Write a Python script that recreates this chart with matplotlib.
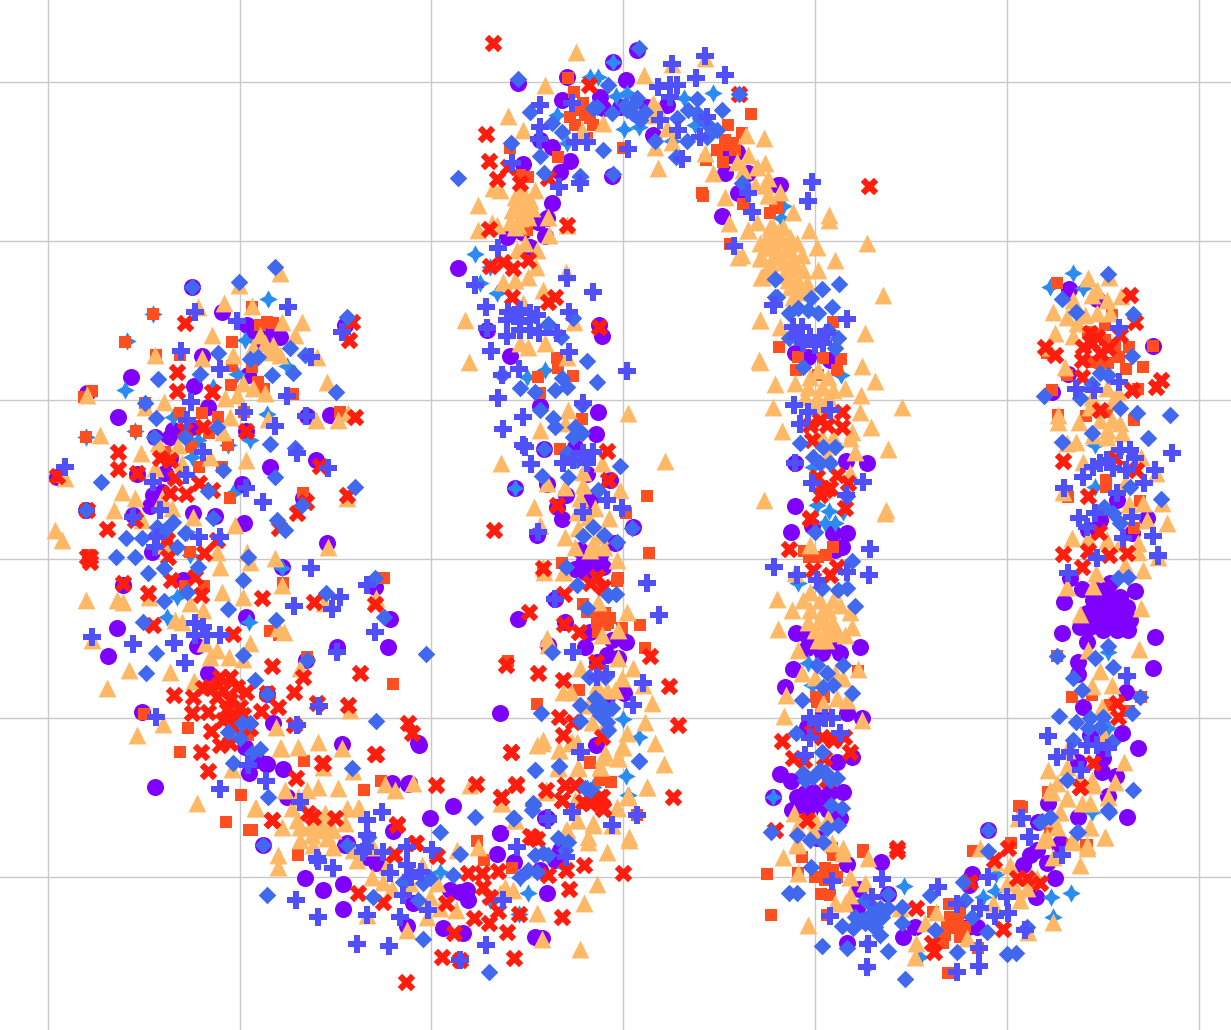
#!/usr/bin/env python3
"""Scatter of seven marker classes along an S-shaped band, values read off the reference."""

import numpy as np
import matplotlib
matplotlib.use("Agg")
import matplotlib.pyplot as plt

x_ticks = [48, 240, 431, 623, 815, 1007, 1199]
y_ticks = [82, 241, 400, 559, 718, 877]

circles = [
    (192,287),(222,312),(247,325),(253,335),(268,330),(280,337),(264,343),(202,356),(131,377),(248,375),
    (194,386),(87,393),(208,407),(118,417),(307,416),(330,415),(173,430),(192,427),(170,437),(155,437),
    (246,431),(170,458),(270,467),(316,460),(137,474),(165,473),(242,484),(153,495),(162,492),(150,506),
    (303,498),(193,513),(215,516),(244,523),(133,515),(86,510),(152,552),(327,543),(345,325),(57,477),
    (117,628),(108,656),(123,585),(183,580),(197,646),(208,673),(246,617),(375,587),(390,619),(388,647),
    (337,647),(306,660),(282,567),(267,694),(273,723),(342,744),(142,712),(245,747),(257,760),(266,764),
    (249,773),(283,769),(155,787),(287,797),(393,831),(345,845),(263,845),(367,855),(375,858),(418,743),
    (392,783),(408,784),(267,764),(305,878),(323,890),(343,884),(343,909),(347,843),(367,857),(376,863),
    (409,783),(430,818),(453,806),(407,926),(413,903),(443,928),(463,933),(450,890),(460,892),(468,900),
    (467,890),(500,833),(497,854),(514,862),(545,818),(555,860),(560,850),(540,870),(547,893),(535,937),
    (542,938),(419,745),(518,83),(613,62),(637,50),(567,77),(562,100),(626,80),(600,97),(603,108),
    (620,107),(647,107),(667,105),(653,135),(540,140),(552,147),(570,161),(560,172),(523,164),(552,203),
    (547,218),(612,176),(458,268),(507,237),(522,232),(545,236),(722,216),(725,173),(730,155),(737,152),
    (738,193),(748,173),(778,185),(530,247),(538,222),(599,325),(487,330),(510,356),(602,336),(540,406),
    (598,412),(596,434),(544,449),(575,447),(515,488),(547,484),(587,474),(610,480),(566,495),(557,507),
    (562,519),(590,500),(537,535),(633,527),(615,543),(580,550),(575,569),(603,567),(590,560),(583,563),
    (597,560),(500,713),(518,619),(555,599),(565,622),(548,645),(590,632),(585,647),(597,662),(607,655),
    (626,642),(612,640),(618,658),(624,693),(607,697),(596,745),(547,818),(500,833),(780,185),(808,357),
    (795,353),(830,360),(846,461),(867,463),(795,463),(795,506),(791,532),(812,526),(833,533),(847,533),
    (842,547),(835,550),(796,633),(808,637),(860,647),(793,669),(807,648),(822,653),(833,645),(840,653),
    (785,687),(823,712),(847,713),(862,718),(807,727),(837,762),(852,757),(780,774),(791,781),(773,797),
    (797,797),(805,793),(813,792),(830,792),(843,792),(792,810),(820,803),(840,818),(810,810),(817,838),
    (847,864),(881,862),(859,889),(888,894),(847,943),(903,937),(915,927),(968,927),(977,927),(972,874),
    (969,885),(988,830),(1023,865),(1030,855),(1037,850),(1048,803),(1036,897),(1055,878),(1038,822),
    (1078,817),(1059,845),(1047,863),(857,908),(1069,289),(1097,299),(1068,374),(1052,392),(1153,346),
    (1088,530),(1132,533),(1147,518),(1100,520),(1117,500),(1070,578),(1082,589),(1064,602),(1135,591),
    (1062,633),(1087,642),(1155,637),(1078,662),(1078,674),(1153,668),(1126,692),(1083,707),(1122,733),
    (1138,748),(1090,735),(1078,762),(1103,758),(1102,772),(1116,776),(1108,796),(1127,817),(1060,843),
    (1093,600),(1107,593),(1120,597),(1087,613),(1100,610),(1113,613),(1127,607),(1090,627),(1103,630),
    (1117,630),(1128,630),(1080,627),(1130,620),(1110,583),(1097,590),
    # tight clumps
    (1095,605),(1105,603),(1115,605),(1095,618),(1108,620),(1120,618),(1100,597),(1112,625),
    (815,800),(825,797),(800,805),(812,800),(828,810),(590,565),(600,555),(585,572),(815,640),(825,645),
]

stars = [
    (268,299),(153,314),(127,341),(125,390),(200,374),(237,374),(287,366),(213,387),(245,340),(173,417),
    (217,427),(267,414),(198,440),(250,440),(228,445),(192,457),(135,431),(86,437),(233,493),(190,555),
    (187,532),(282,568),(177,597),(167,617),(249,622),(626,776),(628,795),(587,788),(565,867),
    (519,914),(528,893),(520,878),(440,872),(490,900),(590,77),(598,77),(613,62),(616,96),(627,93),
    (713,93),(684,98),(557,115),(624,129),(639,127),(567,143),(672,141),(475,254),(490,267),(480,283),
    (497,293),(695,125),(580,177),(515,488),(527,377),(545,370),(639,737),(623,719),(593,787),(783,206),
    (781,218),(841,375),(813,467),(817,505),(829,511),(843,512),(833,443),(825,523),(835,523),(798,583),
    (820,587),(808,663),(812,685),(773,797),(904,886),(996,874),(995,891),(983,897),(1071,893),(1051,897),
    (1053,917),(920,957),(867,943),(878,912),(880,935),(867,967),(1073,273),(1083,288),(1050,287),
    (1095,445),(1095,487),(1108,652),(1127,676),(1108,728),(1092,812),
]

squares = [
    (153,314),(252,307),(125,342),(232,342),(267,322),(260,325),(273,323),(156,355),(180,355),(232,366),
    (252,367),(231,385),(92,391),(84,397),(145,403),(293,394),(258,382),(264,389),(244,412),(218,417),
    (202,413),(180,413),(340,412),(136,431),(86,437),(209,433),(191,447),(228,445),(165,452),(199,467),
    (222,467),(60,477),(230,498),(303,493),(88,555),(190,552),(167,540),(204,586),(185,586),(384,578),
    (283,583),(270,631),(279,635),(307,657),(393,684),(144,714),(188,728),(248,735),(180,752),(304,761),
    (364,790),(381,781),(241,795),(226,822),(249,830),(298,855),(252,830),(477,841),(484,860),(512,868),
    (590,762),(600,780),(611,782),(637,815),(568,78),(574,92),(583,103),(570,117),(575,125),(590,118),
    (587,138),(558,157),(520,175),(528,177),(623,148),(751,114),(728,125),(742,133),(725,140),(717,150),
    (706,160),(723,162),(733,143),(702,193),(703,196),(743,204),(730,244),(770,213),(527,230),(515,230),
    (510,148),(777,208),(557,358),(558,368),(573,376),(540,393),(538,377),(582,419),(560,449),(647,496),
    (626,513),(649,553),(562,563),(618,578),(543,573),(617,581),(583,604),(587,612),(598,613),(605,613),
    (597,622),(608,623),(622,628),(640,625),(645,648),(508,661),(579,690),(537,704),(590,763),(744,204),
    (775,206),(833,322),(779,347),(798,357),(823,358),(841,359),(796,370),(818,375),(837,370),(804,551),
    (809,557),(818,557),(826,555),(833,547),(858,671),(816,697),(824,697),(817,702),(863,850),(832,848),
    (767,874),(802,857),(798,873),(771,915),(833,855),(825,868),(833,870),(815,877),(825,880),(837,877),
    (821,894),(830,895),(863,852),(827,915),(933,912),(949,904),(950,917),(960,913),(955,928),(965,927),
    (960,937),(943,943),(948,973),(973,851),(1011,843),(1019,806),(978,948),(1050,829),(1086,845),
    (1048,792),(1072,845),(947,927),(1057,283),(1088,332),(1105,325),(1112,315),(1129,347),(1153,346),
    (1119,357),(1092,362),(1100,363),(1108,363),(1126,369),(1143,367),(1047,353),(1138,389),(1052,390),
    (1058,415),(1086,416),(1134,420),(1107,412),(1106,487),(1106,480),(1120,490),(1068,497),(1140,501),
    (1134,528),(1067,375),(1072,697),(1092,695),(1141,697),(1110,705),(1129,711),(1057,656),(1048,792),
    (1022,807),(1050,829),(1087,845),
    # tight clumps
    (600,618),(605,625),(598,632),(610,618),(950,925),(958,920),(945,935),(578,110),(585,115),(593,125),
    (1095,335),(1105,340),(1115,345),(728,145),(735,150),
]

triangles = [
    (280,273),(239,285),(198,307),(224,303),(252,306),(302,322),(282,322),(212,335),(295,335),(260,335),
    (265,343),(253,347),(273,350),(280,355),(233,355),(202,358),(155,355),(317,357),(243,383),(253,388),
    (237,395),(225,398),(265,393),(327,382),(87,395),(164,402),(145,407),(268,419),(316,420),(338,420),
    (348,413),(230,417),(100,435),(223,432),(178,445),(158,443),(141,453),(210,457),(246,460),(182,463),
    (155,468),(65,478),(122,492),(135,498),(114,510),(162,498),(172,508),(193,517),(235,525),(55,530),
    (62,540),(347,498),(247,552),(328,547),(165,545),(217,552),(275,558),(142,520),(86,600),(123,602),
    (117,600),(149,597),(190,603),(203,610),(175,620),(182,622),(222,592),(243,597),(220,567),(250,562),
    (282,585),(92,640),(205,643),(217,650),(210,657),(229,657),(243,659),(250,643),(129,670),(170,672),
    (194,681),(107,688),(163,724),(137,735),(276,727),(280,748),(298,747),(318,742),(342,748),(232,769),
    (323,767),(353,771),(300,668),(350,710),(278,628),(284,632),(324,603),(376,598),(318,787),(338,788),
    (385,784),(395,790),(413,783),(197,803),(255,808),(292,808),(307,790),(297,820),(310,827),(282,827),
    (325,813),(320,823),(333,830),(345,823),(347,808),(359,808),(300,840),(313,845),(333,847),(353,850),
    (373,847),(300,827),(327,827),(317,820),(285,790),(298,797),(278,855),(281,748),(256,808),(278,867),
    (358,808),(367,915),(357,860),(372,877),(383,882),(392,888),(387,865),(422,865),(410,883),(430,897),
    (437,883),(440,908),(427,917),(456,910),(407,930),(470,785),(515,820),(457,850),(478,847),(505,887),
    (513,890),(500,893),(502,803),(537,913),(542,939),(580,949),(584,903),(597,884),(546,792),(629,840),
    (607,852),(588,842),(567,830),(577,820),(593,825),(612,825),(617,808),(647,787),(628,797),(578,768),
    (559,750),(542,743),(600,767),(603,757),(618,758),(623,747),(570,743),(558,768),(576,52),(545,85),
    (508,116),(523,130),(478,205),(478,230),(493,188),(500,190),(492,223),(497,225),(515,197),(523,193),
    (535,190),(512,210),(522,207),(532,208),(510,222),(520,218),(528,217),(515,227),(548,217),(549,235),
    (567,225),(517,250),(525,243),(537,250),(536,267),(503,282),(515,280),(528,277),(566,272),(543,290),
    (465,320),(523,303),(672,64),(705,58),(644,75),(653,103),(653,115),(658,110),(667,128),(658,168),
    (603,123),(582,130),(655,147),(672,142),(746,135),(764,138),(725,197),(713,173),(705,153),(748,155),
    (737,162),(743,170),(757,167),(765,163),(768,178),(768,195),(729,223),(748,230),(738,257),(762,277),
    (760,320),(760,243),(762,258),(770,227),(773,237),(768,247),(775,257),(767,270),(469,362),(520,343),
    (528,347),(545,343),(567,357),(574,322),(540,430),(565,423),(568,410),(628,413),(665,461),(501,463),
    (602,463),(547,483),(565,487),(583,472),(583,485),(620,490),(534,507),(540,525),(580,498),(595,508),
    (577,512),(588,517),(609,518),(578,528),(565,537),(575,547),(593,543),(604,547),(617,560),(543,567),
    (563,572),(544,572),(564,572),(598,602),(627,612),(602,635),(618,630),(547,638),(548,645),(618,658),
    (580,668),(633,668),(622,678),(563,692),(571,692),(597,685),(607,690),(615,690),(643,685),(652,703),
    (588,705),(645,722),(592,722),(607,720),(627,733),(655,743),(664,764),(543,740),(537,745),(572,742),
    (577,742),(559,750),(622,747),(605,753),(618,758),(578,767),(600,767),(558,767),(647,787),(546,790),
    (628,795),(575,800),(617,807),(577,820),(593,823),(612,825),(566,830),(515,820),(501,803),(629,837),
    (588,837),(755,185),(765,185),(768,195),(780,192),(793,212),(829,215),(829,220),(757,222),(748,230),
    (809,230),(817,247),(867,243),(835,260),(760,258),(770,263),(742,255),(761,277),(818,270),(883,295),
    (760,320),(780,327),(865,333),(759,360),(760,362),(862,366),(875,381),(775,384),(795,383),(845,388),
    (861,395),(773,407),(902,407),(860,412),(782,431),(871,427),(852,432),(888,449),(855,452),(850,438),
    (764,500),(886,510),(773,227),(783,227),(767,237),(777,237),(790,237),(797,243),(765,247),(775,247),
    (787,248),(802,255),(780,257),(792,260),(790,270),(803,270),(783,275),(797,280),(807,283),(790,287),
    (800,292),(793,297),(810,377),(818,370),(828,377),(808,387),(822,387),(833,390),(805,397),(817,397),
    (828,397),(815,407),(823,407),(833,437),(822,437),(828,455),(850,473),(885,513),(810,545),(795,573),
    (777,599),(792,610),(778,629),(803,600),(810,592),(820,600),(833,600),(840,605),(810,610),(823,610),
    (850,612),(808,622),(822,622),(833,623),(852,627),(825,633),(838,633),(845,635),(798,650),(818,640),
    (858,669),(802,673),(815,677),(835,673),(843,678),(786,695),(837,698),(847,700),(823,703),(784,716),
    (862,720),(794,813),(815,820),(828,818),(797,827),(797,843),(813,830),(832,843),(843,848),(783,857),
    (798,873),(797,845),(808,925),(843,853),(850,877),(865,883),(868,858),(835,903),(845,903),(850,895),
    (916,943),(936,912),(925,923),(900,908),(967,938),(993,903),(980,848),(995,862),(1010,865),(1007,883),
    (1020,900),(1017,890),(1027,888),(1037,878),(1053,818),(1047,837),(1072,842),(1087,848),(1080,865),
    (1053,857),(1018,818),(1050,790),(1067,798),(1090,803),(1093,785),(1105,837),(1090,827),(1060,812),
    (1028,932),(1053,922),(915,957),(1088,278),(1109,277),(1097,290),(1073,300),(1092,295),(1107,300),
    (1053,312),(1067,317),(1085,315),(1097,313),(1110,313),(1121,296),(1077,323),(1055,333),(1073,336),
    (1048,347),(1065,367),(1107,388),(1118,392),(1113,400),(1092,397),(1090,407),(1058,415),(1058,422),
    (1079,422),(1100,420),(1112,420),(1120,423),(1107,430),(1122,433),(1093,435),(1107,437),(1067,443),
    (1076,442),(1141,457),(1083,462),(1125,483),(1156,473),(1063,492),(1129,504),(1143,503),(1162,503),
    (1147,520),(1167,523),(1072,538),(1138,543),(1088,538),(1107,540),(1120,543),(1138,552),(1158,557),
    (1125,565),(1143,570),(1096,573),(1093,586),(1067,587),(1141,608),(1080,614),(1139,649),(1088,650),
    (1100,671),(1092,686),(1112,685),(1102,707),(1104,735),(1067,750),(1124,762),(1048,770),(1067,767),
    (1115,782),(1057,783),(1052,792),(1067,798),(1092,780),(1080,777),(1108,797),(1082,803),(1060,812),
    (1090,827),(1105,837),(1057,827),(1072,840),(1043,840),(1087,845),
    # tight clumps
    (518,200),(526,212),(518,225),(530,200),(522,190),(782,240),(790,250),(784,262),(796,265),(778,232),
    (788,280),(800,285),(822,615),(830,628),(815,630),(828,610),(826,640),(320,830),(327,838),(312,835),
    (273,345),(268,352),(595,545),(590,550),(600,535),
]

crosses = [
    (185,323),(352,322),(349,340),(177,372),(177,391),(212,392),(355,417),(246,431),(203,427),(185,430),
    (118,452),(118,469),(170,460),(160,458),(137,473),(175,478),(199,483),(186,494),(170,493),(212,490),
    (320,466),(57,476),(87,510),(135,520),(107,529),(306,502),(297,513),(279,528),(347,495),(167,540),
    (217,540),(204,553),(168,557),(90,557),(87,557),(90,562),(123,583),(148,593),(171,580),(195,577),
    (201,595),(262,598),(314,602),(375,604),(153,625),(233,634),(272,666),(303,677),(360,673),(174,695),
    (193,697),(192,713),(208,712),(211,731),(246,692),(267,693),(294,692),(278,707),(261,711),(317,703),
    (348,705),(294,725),(408,723),(412,733),(375,754),(322,763),(201,752),(208,771),(220,745),(230,743),
    (250,728),(296,778),(272,820),(313,817),(335,818),(397,825),(415,843),(394,855),(220,677),(230,677),
    (210,687),(223,690),(237,687),(217,697),(230,700),(240,707),(227,710),(237,717),(223,720),(243,715),
    (203,688),(218,685),(228,717),(233,727),(308,813),(376,754),(511,752),(323,763),(436,785),(476,784),
    (516,784),(501,797),(272,820),(397,824),(416,843),(394,854),(437,856),(358,893),(383,902),(446,903),
    (468,873),(482,873),(498,871),(483,887),(490,897),(498,911),(474,918),(489,923),(507,932),(454,933),
    (442,957),(460,960),(514,958),(406,982),(519,914),(562,917),(569,889),(548,875),(584,865),(566,870),
    (623,873),(530,836),(537,839),(562,800),(565,785),(575,785),(590,803),(603,808),(600,797),(493,43),
    (589,85),(486,134),(489,161),(497,179),(508,167),(548,178),(520,183),(739,94),(567,225),(489,229),
    (490,266),(503,262),(513,268),(528,260),(548,302),(555,297),(512,297),(599,327),(607,451),(608,480),
    (557,505),(494,530),(543,568),(564,594),(529,612),(590,583),(597,577),(603,587),(564,624),(579,632),
    (596,662),(650,656),(506,665),(538,673),(563,680),(669,686),(559,717),(573,722),(678,725),(563,735),
    (511,752),(602,737),(516,785),(546,790),(565,785),(575,785),(562,800),(501,797),(673,797),(532,837),
    (590,803),(602,797),(603,809),(583,802),(869,186),(842,412),(820,420),(810,425),(827,425),(842,427),
    (812,440),(817,477),(837,475),(848,483),(825,490),(830,488),(810,518),(845,508),(822,488),(820,495),
    (789,549),(810,519),(813,570),(830,575),(837,567),(782,741),(793,758),(804,760),(824,758),(812,732),
    (822,737),(833,740),(844,737),(850,752),(775,830),(897,848),(807,820),(827,780),(897,851),(916,908),
    (970,882),(932,943),(934,952),(1003,929),(1008,848),(994,860),(1017,878),(1027,878),(1040,883),
    (1080,787),(1130,295),(1135,322),(1055,355),(1045,347),(1082,377),(1082,360),(1097,337),(1083,347),
    (1100,353),(1092,343),(1108,348),(1090,333),(1132,390),(1161,380),(1156,387),(1120,335),(1100,410),
    (1063,461),(1136,470),(1115,458),(1088,496),(1099,532),(1063,554),(1088,551),(1109,555),(1127,553),
    (1082,567),(1118,717),(1117,703),(1093,763),(1080,787),
]

diamonds = [
    (275,267),(239,282),(192,287),(347,317),(355,487),(290,348),(218,353),(305,355),(258,357),(250,359),
    (272,375),(293,373),(158,379),(200,374),(336,392),(145,403),(156,418),(217,427),(185,437),(154,437),
    (270,444),(295,448),(223,470),(101,482),(208,491),(275,477),(302,505),(213,518),(86,510),(126,538),
    (142,538),(173,522),(185,533),(177,547),(116,557),(135,557),(157,527),(165,530),(277,520),(285,530),
    (248,557),(157,533),(148,573),(164,568),(198,567),(243,580),(187,592),(164,601),(228,609),(276,620),
    (156,653),(146,673),(326,593),(375,578),(307,660),(255,680),(267,694),(376,721),(297,725),(228,732),
    (242,723),(250,723),(240,738),(252,753),(260,749),(233,763),(268,797),(263,845),(368,837),(347,845),
    (384,617),(143,622),(243,655),(352,768),(267,895),(535,770),(559,766),(639,761),(533,805),(373,897),
    (440,832),(368,837),(475,817),(460,854),(513,818),(423,939),(489,972),(403,882),(418,900),(423,883),
    (430,878),(453,875),(558,838),(568,842),(535,855),(543,853),(528,870),(537,872),(520,877),(533,803),
    (585,788),(590,790),(518,79),(639,48),(608,85),(530,112),(552,123),(562,132),(458,178),(511,143),
    (540,156),(544,173),(580,176),(603,150),(613,174),(655,141),(676,157),(687,141),(697,99),(722,110),
    (739,94),(627,110),(637,98),(640,120),(688,110),(697,113),(677,118),(717,130),(707,137),(742,183),
    (775,279),(775,297),(573,318),(548,324),(593,108),(632,113),(612,113),(597,107),(548,325),(561,337),
    (587,361),(597,382),(520,388),(502,375),(535,392),(555,390),(567,387),(562,378),(540,410),(553,418),
    (555,427),(582,405),(582,433),(573,437),(620,466),(544,449),(568,477),(542,476),(598,490),(567,453),
    (577,460),(583,536),(604,535),(593,527),(632,528),(617,542),(566,567),(575,427),(577,585),(616,594),
    (608,595),(587,608),(552,652),(589,677),(605,677),(541,713),(580,705),(595,698),(602,710),(612,708),
    (580,721),(608,730),(600,703),(605,713),(559,766),(535,770),(639,761),(533,805),(532,810),(514,818),
    (775,279),(822,289),(839,284),(777,297),(811,298),(832,307),(789,313),(798,308),(808,310),(818,313),
    (789,338),(838,338),(835,348),(800,443),(823,447),(813,457),(835,447),(820,463),(830,463),(847,496),
    (803,367),(828,330),(815,532),(852,561),(847,588),(822,588),(838,590),(855,606),(843,665),(817,665),
    (827,673),(833,685),(852,693),(802,700),(823,687),(796,733),(822,752),(803,773),(825,772),(813,777),
    (837,778),(831,805),(842,808),(838,825),(827,828),(797,835),(771,832),(810,840),(823,842),(805,780),
    (789,893),(797,893),(811,867),(822,946),(847,948),(888,951),(905,979),(842,926),(853,928),(855,917),
    (865,923),(875,927),(865,900),(873,907),(882,917),(888,908),(902,907),(902,923),(880,935),(888,894),
    (930,895),(957,952),(965,900),(972,917),(963,882),(987,932),(1007,954),(1016,953),(988,851),(988,830),
    (1042,821),(1108,810),(1077,832),(1027,927),(935,930),(1108,274),(1062,299),(1076,312),(1133,314),
    (1132,356),(1100,373),(1108,375),(1092,384),(1044,396),(1080,398),(1120,408),(1137,413),(1170,415),
    (1148,438),(1062,442),(1092,433),(1161,499),(1104,507),(1113,513),(1120,523),(1130,487),(1118,578),
    (1128,577),(1108,646),(1057,656),(1095,658),(1113,667),(1073,678),(1082,690),(1140,697),(1059,716),
    (1132,713),(1076,722),(1090,718),(1100,727),(1088,728),(1073,740),(1112,742),(1133,790),(1109,812),
    (1040,822),(1067,780),(1050,817),(1078,832),(1103,717),(426,654),
    # tight clumps
    (870,915),(878,918),(872,925),(862,920),(880,908),(625,105),(635,103),(645,112),(700,118),(708,125),
    (600,715),(607,722),(595,708),(820,770),(830,780),(565,850),(548,855),
]

pluses = [
    (288,307),(195,312),(237,321),(342,332),(181,351),(311,357),(220,369),(287,396),(191,402),(306,416),
    (244,412),(275,426),(187,420),(203,452),(65,467),(297,453),(186,475),(246,488),(153,482),(263,502),
    (160,510),(199,537),(157,537),(155,547),(133,517),(220,537),(328,468),(311,568),(92,637),(133,644),
    (174,643),(185,663),(195,623),(203,627),(195,635),(207,635),(220,635),(294,606),(340,597),(332,609),
    (375,632),(337,652),(367,585),(319,706),(297,725),(248,765),(266,781),(220,789),(382,812),(367,820),
    (300,802),(365,847),(383,852),(407,847),(317,858),(156,717),(318,861),(333,868),(296,900),(318,917),
    (367,915),(367,835),(363,852),(390,873),(407,865),(411,877),(421,872),(403,895),(428,910),(400,917),
    (357,944),(389,946),(486,945),(460,960),(517,847),(432,850),(407,847),(548,818),(572,812),(581,752),
    (566,857),(503,900),(705,56),(672,64),(696,78),(725,75),(540,105),(572,103),(540,127),(539,139),
    (575,142),(587,142),(512,163),(559,187),(580,183),(498,248),(628,149),(682,159),(658,87),(670,85),
    (677,85),(670,97),(660,120),(678,130),(707,117),(700,137),(734,246),(748,193),(752,212),(567,278),
    (593,292),(475,285),(486,307),(569,312),(508,312),(520,310),(530,313),(507,320),(520,322),(530,320),
    (487,328),(537,315),(515,315),(773,305),(507,336),(520,330),(530,330),(539,333),(557,333),(569,352),
    (491,351),(519,369),(502,375),(627,371),(498,398),(583,403),(523,417),(503,429),(525,447),(523,445),
    (531,464),(563,463),(593,452),(583,453),(573,460),(587,463),(538,532),(607,500),(622,508),(583,512),
    (647,583),(659,615),(555,599),(573,652),(643,683),(606,674),(597,677),(633,705),(580,752),(612,825),
    (548,820),(637,815),(572,812),(808,201),(812,182),(774,305),(847,319),(794,405),(808,412),(800,424),
    (830,410),(795,463),(863,482),(802,327),(810,337),(820,337),(797,337),(803,343),(815,345),(823,343),
    (827,333),(812,483),(846,495),(793,327),(870,549),(774,567),(869,575),(797,575),(817,580),(847,572),
    (832,718),(810,718),(818,723),(810,738),(840,733),(805,755),(825,718),(1030,837),(1021,818),(1062,855),
    (882,879),(938,887),(832,881),(872,897),(830,916),(868,944),(867,967),(957,904),(980,908),(995,916),
    (1008,913),(1007,897),(988,877),(957,972),(979,966),(979,948),(1025,930),(1119,328),(1076,389),
    (1094,390),(1119,382),(1172,453),(1155,470),(1144,483),(1126,470),(1130,450),(1120,450),(1100,463),
    (1093,467),(1083,477),(1064,488),(1113,468),(1117,493),(1079,518),(1095,513),(1087,527),(1132,517),
    (1153,536),(1123,538),(1158,555),(1107,460),(1135,458),(1068,573),(1158,556),(1097,558),(1127,676),
    (1048,736),(1057,757),(1081,770),(1087,745),(1097,745),(1108,748),(1022,818),(1029,837),(1070,752),
]

# bottom to top, same order the reference seems to paint them in
classes = [
    (circles, "o", "#8000ff", 150),
    (stars, (4, 1, 0), "#2a8cf0", 175),
    (squares, "s", "#ff4e20", 74),
    (triangles, "^", "#ffb866", 165),
    (crosses, "X", "#ff1e0e", 160),
    (diamonds, "D", "#4169f0", 80),
    (pluses, "P", "#5050fb", 155),
]

fig = plt.figure(figsize=(12.31, 10.30), dpi=100)
ax = fig.add_axes([0, 0, 1, 1])

for points, marker, color, size in classes:
    xs, ys = np.array(points).T
    ax.scatter(xs, ys, marker=marker, c=color, s=size, linewidths=0)

ax.set_xlim(0, 1231)
ax.set_ylim(1030, 0)
ax.set_xticks(x_ticks)
ax.set_yticks(y_ticks)
ax.tick_params(length=0, labelbottom=False, labelleft=False)
ax.set_axisbelow(True)
ax.grid(True, color="#c8c8c8", linewidth=1.0)
for spine in ax.spines.values():
    spine.set_visible(False)

fig.savefig("out.png", dpi=100)
